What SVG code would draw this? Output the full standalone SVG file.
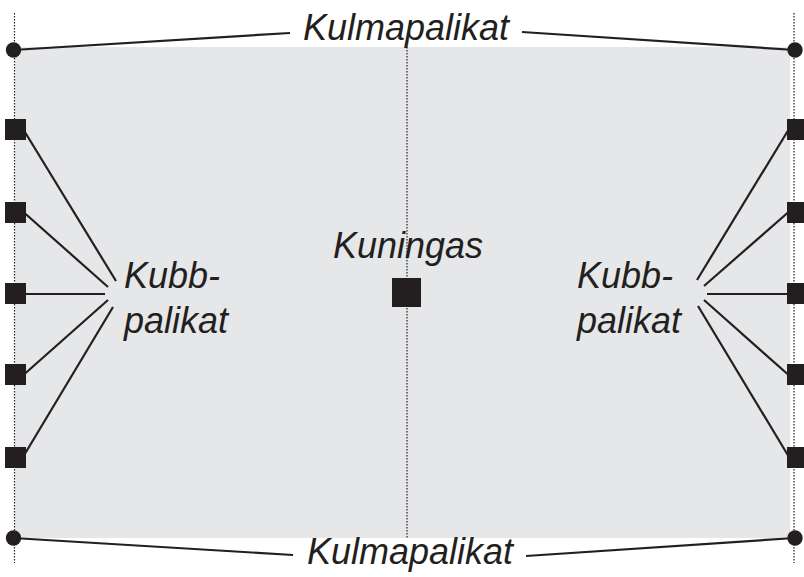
<svg xmlns="http://www.w3.org/2000/svg" width="804" height="577" viewBox="0 0 804 577">
<style>
.t{font-family:"Liberation Sans",Arial,sans-serif;font-style:italic;font-size:36px;fill:#231f20}
.ln{stroke:#231f20;stroke-width:2.2;fill:none}
.dot{stroke:#231f20;stroke-width:1.2;stroke-dasharray:1.5 1.5;fill:none}
.sq{fill:#231f20}
</style>
<rect x="15" y="47" width="775" height="491" fill="#e6e7e8"/>
<g id="guides">
<line class="dot" x1="14.5" y1="13" x2="14.5" y2="563"/>
<line class="dot" x1="794" y1="13" x2="794" y2="563"/>
<line class="dot" x1="407" y1="47" x2="407" y2="538"/>
</g>
<g id="connectors">
<line class="ln" x1="13" y1="50" x2="290" y2="33"/>
<line class="ln" x1="522" y1="32" x2="795" y2="50"/>
<line class="ln" x1="13" y1="538" x2="293" y2="555"/>
<line class="ln" x1="526" y1="556" x2="795" y2="538"/>
<line class="ln" x1="20" y1="124" x2="116" y2="281"/>
<line class="ln" x1="20" y1="209" x2="108" y2="287"/>
<line class="ln" x1="20" y1="294" x2="105" y2="294"/>
<line class="ln" x1="20" y1="378" x2="108" y2="300"/>
<line class="ln" x1="20" y1="462" x2="113" y2="307"/>
<line class="ln" x1="792" y1="124" x2="697" y2="280"/>
<line class="ln" x1="792" y1="209" x2="704" y2="286"/>
<line class="ln" x1="792" y1="294" x2="707" y2="294"/>
<line class="ln" x1="792" y1="378" x2="704" y2="300"/>
<line class="ln" x1="792" y1="462" x2="698" y2="306"/>
</g>
<g id="corner-tl"><circle cx="13.5" cy="50" r="7.7" fill="#231f20"/></g>
<g id="corner-tr"><circle cx="795" cy="50" r="7.7" fill="#231f20"/></g>
<g id="corner-bl"><circle cx="13.5" cy="538" r="7.7" fill="#231f20"/></g>
<g id="corner-br"><circle cx="795" cy="538" r="7.7" fill="#231f20"/></g>
<g id="edge-left">
<rect class="sq" x="5" y="119" width="21" height="21"/>
<rect class="sq" x="5" y="202" width="21" height="21"/>
<rect class="sq" x="5" y="283" width="21" height="21"/>
<rect class="sq" x="5" y="364" width="21" height="21"/>
<rect class="sq" x="5" y="447" width="21" height="21"/>
</g>
<g id="edge-right">
<rect class="sq" x="787" y="119" width="21" height="21"/>
<rect class="sq" x="787" y="202" width="21" height="21"/>
<rect class="sq" x="787" y="283" width="21" height="21"/>
<rect class="sq" x="787" y="364" width="21" height="21"/>
<rect class="sq" x="787" y="447" width="21" height="21"/>
</g>
<g id="king"><rect class="sq" x="392" y="278" width="29" height="29"/></g>
<g id="labels">
<text class="t" x="303" y="40">Kulmapalikat</text>
<text class="t" x="307" y="564">Kulmapalikat</text>
<text class="t" x="333" y="258">Kuningas</text>
<text class="t" x="124" y="288">Kubb-</text>
<text class="t" x="124" y="333">palikat</text>
<text class="t" x="577" y="288">Kubb-</text>
<text class="t" x="577" y="333">palikat</text>
</g>
</svg>
